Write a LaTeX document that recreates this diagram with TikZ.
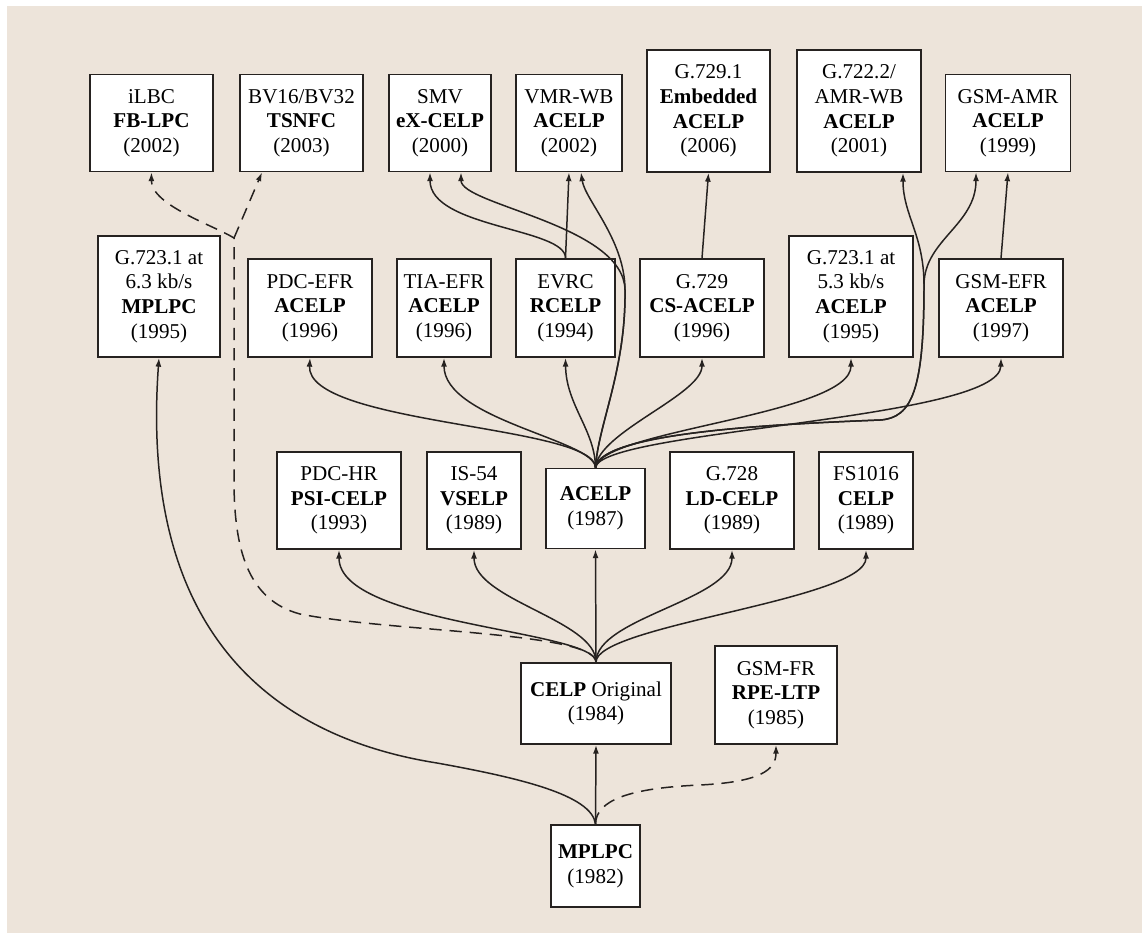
\documentclass[tikz,border=0pt]{standalone}
\usepackage{fontspec}
\setmainfont{Liberation Serif}
\usepackage{tikz}
\usetikzlibrary{arrows.meta}

\definecolor{paper}{RGB}{237,228,218}
\definecolor{ink}{RGB}{38,34,32}

\begin{document}
\begin{tikzpicture}[
  x=0.02cm, y=-0.02cm,
  font=\fontsize{12}{14}\selectfont,
  box/.style 2 args={
    draw=ink,
    fill=white,
    line width=1pt,
    align=center,
    inner sep=0pt,
    minimum width=#1,
    minimum height=#2
  },
  arr/.style={
    -{Latex[length=5pt, width=3.4pt]},
    line width=0.85pt,
    draw=ink
  },
  dasharr/.style={arr, dash pattern=on 7pt off 4.5pt}
]
  \useasboundingbox (0,0) rectangle (1142,933);
  \fill[white] (0,0) rectangle (1142,933);
  \fill[paper] (7,6) rectangle (1142,933);

  % Top row: newest coders
  \node[box={2.46cm}{1.94cm}] (ilbc) at (151.5,123) {iLBC\\\textbf{FB-LPC}\\(2002)};
  \node[box={2.46cm}{1.94cm}] (bv) at (301.5,123) {BV16/BV32\\\textbf{TSNFC}\\(2003)};
  \node[box={2.04cm}{1.94cm}] (smv) at (440,123) {SMV\\\textbf{eX-CELP}\\(2000)};
  \node[box={2.12cm}{1.94cm}] (vmr) at (569,123) {VMR-WB\\\textbf{ACELP}\\(2002)};
  \node[box={2.46cm}{2.44cm}] (g7291) at (708.5,111) {G.729.1\\\textbf{Embedded}\\\textbf{ACELP}\\(2006)};
  \node[box={2.48cm}{2.44cm}] (g7222) at (859,111) {G.722.2/\\AMR-WB\\\textbf{ACELP}\\(2001)};
  \node[box={2.5cm}{1.94cm}] (gsmamr) at (1008,123) {GSM-AMR\\\textbf{ACELP}\\(1999)};

  % Middle row
  \node[box={2.44cm}{2.42cm}] (g7231a) at (159,296.5) {G.723.1 at\\6.3 kb/s\\\textbf{MPLPC}\\(1995)};
  \node[box={2.48cm}{1.96cm}] (pdcefr) at (310,308) {PDC-EFR\\\textbf{ACELP}\\(1996)};
  \node[box={1.88cm}{1.96cm}] (tiaefr) at (444,308) {TIA-EFR\\\textbf{ACELP}\\(1996)};
  \node[box={1.98cm}{1.96cm}] (evrc) at (565.5,308) {EVRC\\\textbf{RCELP}\\(1994)};
  \node[box={2.48cm}{1.96cm}] (g729) at (702,308) {G.729\\\textbf{CS-ACELP}\\(1996)};
  \node[box={2.48cm}{2.42cm}] (g7231b) at (851,296.5) {G.723.1 at\\5.3 kb/s\\\textbf{ACELP}\\(1995)};
  \node[box={2.48cm}{1.96cm}] (gsmefr) at (1001,308) {GSM-EFR\\\textbf{ACELP}\\(1997)};

  % CELP family
  \node[box={2.48cm}{1.94cm}] (pdchr) at (339,500.5) {PDC-HR\\\textbf{PSI-CELP}\\(1993)};
  \node[box={1.88cm}{1.94cm}] (is54) at (474,500.5) {IS-54\\\textbf{VSELP}\\(1989)};
  \node[box={1.98cm}{1.6cm}] (acelp) at (595.5,508.5) {\textbf{ACELP}\\(1987)};
  \node[box={2.48cm}{1.94cm}] (g728) at (732,500.5) {G.728\\\textbf{LD-CELP}\\(1989)};
  \node[box={1.88cm}{1.94cm}] (fs1016) at (866,500.5) {FS1016\\\textbf{CELP}\\(1989)};

  \node[box={3.0cm}{1.62cm}] (celp) at (596,703.5) {\textbf{CELP} Original\\(1984)};
  \node[box={2.44cm}{1.96cm}] (gsmfr) at (776,695) {GSM-FR\\\textbf{RPE-LTP}\\(1985)};
  \node[box={1.78cm}{1.64cm}] (mplpc) at (595.5,866) {\textbf{MPLPC}\\(1982)};

  % From MPLPC
  \draw[arr] (mplpc.north) -- (celp.south);
  \draw[arr] (mplpc.north) .. controls (592,795) and (520,778) .. (437,763)
    .. controls (260,735) and (140,620) .. (g7231a.south);
  \draw[dasharr] (mplpc.north) .. controls (596,800) and (630,788) .. (700,785)
    .. controls (760,782) and (776,770) .. (gsmfr.south);

  % From CELP
  \draw[arr] (celp.north) -- (acelp.south);
  \draw[arr] (celp.north) .. controls (596,630) and (339,625) .. (pdchr.south);
  \draw[arr] (celp.north) .. controls (596,620) and (474,600) .. (is54.south);
  \draw[arr] (celp.north) .. controls (596,618) and (732,600) .. (g728.south);
  \draw[arr] (celp.north) .. controls (596,625) and (866,600) .. (fs1016.south);

  % Dashed branch up the left side
  \coordinate (dsplit) at (234,238);
  \draw[dasharr] (celp.north) .. controls (596,632) and (390,632) .. (300,614)
    .. controls (248,600) and (234,550) .. (234,480) -- (dsplit)
    .. controls (215,226) and (151,205) .. (ilbc.south);
  \draw[dasharr] (dsplit) -- ([xshift=-0.79cm]bv.south);

  % From ACELP
  \draw[arr] (acelp.north) .. controls (595,425) and (306,425) .. (pdcefr.south);
  \draw[arr] (acelp.north) .. controls (595,440) and (444,420) .. (tiaefr.south);
  \draw[arr] (acelp.north) .. controls (595,430) and (566,405) .. (evrc.south);
  \draw[arr] (acelp.north) .. controls (598,432) and (702,395) .. (g729.south);
  \draw[arr] (acelp.north) .. controls (600,430) and (851,415) .. (g7231b.south);
  \draw[arr] (acelp.north) .. controls (600,430) and (1000,420) .. (gsmefr.south);

  \draw[arr] (acelp.north) .. controls (598,425) and (626,370) .. (625,290)
    .. controls (624,225) and (461,205) .. ([xshift=0.42cm]smv.south);
  \draw[arr] (acelp.north) .. controls (598,425) and (626,370) .. (625,290)
    .. controls (625,240) and (585,200) .. ([xshift=0.24cm]vmr.south);

  \draw[arr] (acelp.north) .. controls (600,432) and (780,424) .. (880,420)
    .. controls (912,418) and (924,390) .. (924,285)
    .. controls (924,235) and (903,215) .. ([xshift=0.88cm]g7222.south);
  \draw[arr] (acelp.north) .. controls (600,432) and (780,424) .. (880,420)
    .. controls (912,418) and (924,390) .. (924,285)
    .. controls (924,240) and (976,225) .. ([xshift=-0.64cm]gsmamr.south);

  % Second generation links
  \draw[arr] (evrc.north) -- (vmr.south);
  \draw[arr] (evrc.north) .. controls (566,228) and (430,228) .. ([xshift=-0.2cm]smv.south);
  \draw[arr] (g729.north) -- (g7291.south);
  \draw[arr] (gsmefr.north) -- (gsmamr.south);
\end{tikzpicture}
\end{document}
